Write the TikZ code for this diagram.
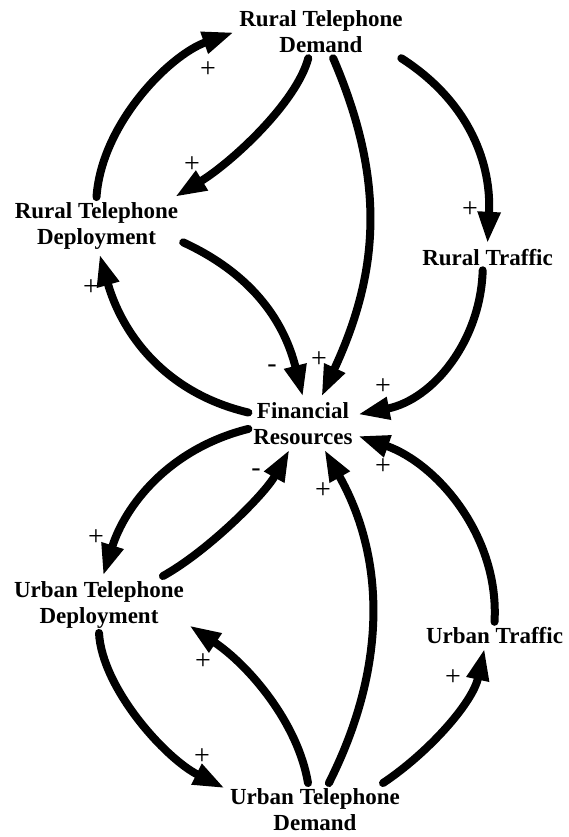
\documentclass[tikz,border=0pt]{standalone}
\usepackage{fontspec}
\setmainfont{Liberation Serif}
\usetikzlibrary{arrows.meta}
\tikzset{
  var/.style={font=\bfseries\fontsize{23}{26}\selectfont, align=center, inner sep=0pt, outer sep=5pt},
  pol/.style={font=\fontsize{28}{28}\selectfont, inner sep=0pt},
  link/.style={line width=8pt, line cap=round, -{Triangle[length=32pt,width=21pt]}}
}
\begin{document}
\begin{tikzpicture}[x=1pt,y=-1pt]
\useasboundingbox (0,0) rectangle (568,837);
% draw variables (base = last line)
\node[var,anchor=base] (rdem) at (321,53) {Rural Telephone\\Demand};
\node[var,anchor=base] (rdep) at (96.5,244) {Rural Telephone\\Deployment};
\node[var,anchor=base] (rtraf) at (487.5,265) {Rural Traffic};
\node[var,anchor=base] (fin) at (303,444) {Financial\\Resources};
\node[var,anchor=base] (udep) at (99,623) {Urban Telephone\\Deployment};
\node[var,anchor=base] (utraf) at (494.5,643) {Urban Traffic};
\node[var,anchor=base] (udem) at (315,830) {Urban Telephone\\Demand};
% draw links, rural loop
\draw[link] (rdep.north) .. controls +(5,-73) and +(-65,23) .. (rdem.west);
\draw[link] (rdem.244) .. controls +(-12,45) and +(56,-34) .. (rdep.20);
\draw[link] (rdem.295) .. controls +(52,121) and +(59,-127) .. (fin.55);
\draw[link] (rdem.342) .. controls +(70,45) and +(4,-78) .. (rtraf.north);
\draw[link] (rtraf.250) .. controls +(-2,70) and +(76,-15) .. (fin.9);
\draw[link] (rdep.349) .. controls +(65,30) and +(-20,-80) .. (fin.north);
\draw[link] (fin.169) .. controls +(-85,-20) and +(22,78) .. (rdep.-84);
% draw links, urban loop
\draw[link] (fin.186) .. controls +(-80,20) and +(22,-70) .. (udep.82);
\draw[link] (udep.24) .. controls +(45,-25) and +(-25,45) .. (fin.243);
\draw[link] (udem.105) .. controls +(-10,-60) and +(60,40) .. (udep.347);
\draw[link] (udem.62) .. controls +(58,-115) and +(62,110) .. (fin.309);
\draw[link] (utraf.north) .. controls +(5,-85) and +(80,28) .. (fin.347);
\draw[link] (udem.21) .. controls +(45,-30) and +(-12,55) .. (utraf.233);
\draw[link] (udep.south) .. controls +(3,55) and +(-60,-30) .. (udem.167);
% draw polarities
\foreach \n/\s/\x/\y in {1/+/208/70, 2/+/192/165, 3/+/319/360, 4/+/470/210,
  5/+/383/387, 6/-/272/369, 7/+/91/288, 8/+/96/538, 9/-/256/473,
  10/+/203/662, 11/+/323/491, 12/+/383/467, 13/+/453/678, 14/+/202/757}
\node[pol] (s\n) at (\x,\y) {\s};
\end{tikzpicture}
\end{document}
